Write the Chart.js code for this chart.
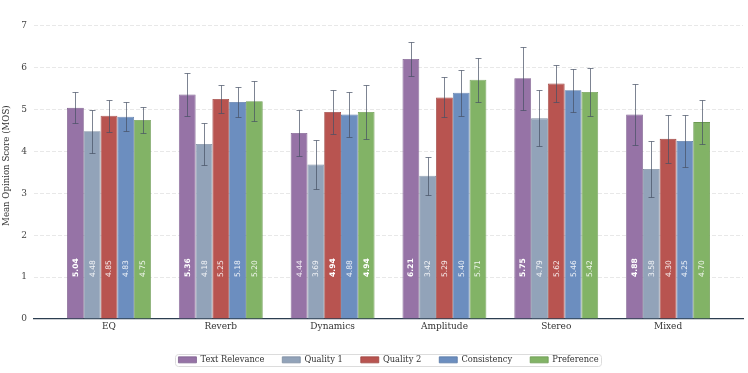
<!DOCTYPE html>
<html>
<head>
<meta charset="utf-8">
<script src="https://cdn.jsdelivr.net/npm/chart.js@4.4.1/dist/chart.umd.min.js"></script>
<style>
  html, body { margin: 0; padding: 0; background: #ffffff; }
  #wrap { position: relative; width: 748px; height: 373px; }
</style>
</head>
<body>
<div id="wrap"><canvas id="c" width="748" height="373"></canvas></div>
<script>
const categories = ['EQ', 'Reverb', 'Dynamics', 'Amplitude', 'Stereo', 'Mixed'];
const seriesNames = ['Text Relevance', 'Quality 1', 'Quality 2', 'Consistency', 'Preference'];

const textRelevance = [5.04, 5.36, 4.44, 6.21, 5.75, 4.88];
const quality1      = [4.48, 4.18, 3.69, 3.42, 4.79, 3.58];
const quality2      = [4.85, 5.25, 4.94, 5.29, 5.62, 4.30];
const consistency   = [4.83, 5.18, 4.88, 5.40, 5.46, 4.25];
const preference    = [4.75, 5.20, 4.94, 5.71, 5.42, 4.70];

const textRelevanceErr = [0.37, 0.52, 0.55, 0.40, 0.75, 0.73];
const quality1Err      = [0.51, 0.51, 0.58, 0.45, 0.67, 0.66];
const quality2Err      = [0.38, 0.33, 0.53, 0.48, 0.45, 0.58];
const consistencyErr   = [0.34, 0.36, 0.54, 0.55, 0.52, 0.63];
const preferenceErr    = [0.32, 0.47, 0.65, 0.52, 0.57, 0.53];

const yTickValues = [0, 1, 2, 3, 4, 5, 6, 7];

const seriesValues = [textRelevance, quality1, quality2, consistency, preference];
const seriesErrors = [textRelevanceErr, quality1Err, quality2Err, consistencyErr, preferenceErr];
const fillColors = ['#9673a6', '#92a3b9', '#b85450', '#6c8ebf', '#82b366'];
const edgeColors = ['#7e5f8e', '#7c8ca0', '#9e4440', '#5877a6', '#6c9a52'];

const SERIF = '"DejaVu Serif", serif';
const SANS = '"DejaVu Sans", sans-serif';
const LEGEND_SHIFT_X = 17;
const LEGEND_SHIFT_Y = 4;

const datasets = seriesNames.map((name, s) => ({
  label: name,
  data: seriesValues[s].map((v, i) => ({ x: i, y: v })),
  errors: seriesErrors[s],
  backgroundColor: fillColors[s],
  borderColor: edgeColors[s],
  borderWidth: 0.8,
  categoryPercentage: 0.75,
  barPercentage: 1.0
}));

const errorBarPlugin = {
  id: 'errorBars',
  afterDatasetsDraw(chart) {
    const ctx = chart.ctx;
    const yScale = chart.scales.y;
    ctx.save();
    ctx.strokeStyle = 'rgba(70,80,100,0.7)';
    ctx.lineWidth = 1;
    chart.data.datasets.forEach((ds, di) => {
      const meta = chart.getDatasetMeta(di);
      meta.data.forEach((bar, i) => {
        const v = ds.data[i].y, e = ds.errors[i];
        const yt = Math.round(yScale.getPixelForValue(v + e)) + 0.5;
        const yb = Math.round(yScale.getPixelForValue(v - e)) + 0.5;
        const x = Math.round(bar.x) + 0.5;
        ctx.beginPath();
        ctx.moveTo(x, yt); ctx.lineTo(x, yb);
        ctx.moveTo(x - 3, yt); ctx.lineTo(x + 3, yt);
        ctx.moveTo(x - 3, yb); ctx.lineTo(x + 3, yb);
        ctx.stroke();
      });
    });
    ctx.restore();
  }
};

const valueLabelPlugin = {
  id: 'valueLabels',
  afterDatasetsDraw(chart) {
    const ctx = chart.ctx;
    const yScale = chart.scales.y;
    const y0 = yScale.getPixelForValue(1.0);
    ctx.save();
    chart.data.datasets.forEach((ds, di) => {
      const meta = chart.getDatasetMeta(di);
      meta.data.forEach((bar, i) => {
        const v = ds.data[i].y;
        const maxV = Math.max(...seriesValues.map(arr => arr[i]));
        const isMax = v === maxV;
        ctx.save();
        ctx.translate(bar.x, y0);
        ctx.rotate(-Math.PI / 2);
        ctx.font = (isMax ? 'bold ' : '') + '7.6px ' + SANS;
        ctx.fillStyle = isMax ? '#ffffff' : 'rgba(255,255,255,0.88)';
        ctx.textAlign = 'left';
        ctx.textBaseline = 'middle';
        ctx.fillText(v.toFixed(2), 0, 0.5);
        ctx.restore();
      });
    });
    ctx.restore();
  }
};

const legendPlugin = {
  id: 'legendFrame',
  afterLayout(chart) {
    const lg = chart.legend;
    if (!lg) return;
    lg.left += LEGEND_SHIFT_X; lg.right += LEGEND_SHIFT_X;
    lg.top += LEGEND_SHIFT_Y; lg.bottom += LEGEND_SHIFT_Y;
  },
  afterDraw(chart) {
    const lg = chart.legend;
    if (!lg || !lg.legendHitBoxes || !lg.legendHitBoxes.length) return;
    const boxes = lg.legendHitBoxes;
    const left = Math.min(...boxes.map(b => b.left)) - 3;
    const right = Math.max(...boxes.map(b => b.left + b.width)) + 3;
    const top = Math.min(...boxes.map(b => b.top)) - 2;
    const bottom = Math.max(...boxes.map(b => b.top + b.height)) + 2;
    const ctx = chart.ctx;
    ctx.save();
    ctx.strokeStyle = '#dcdcdc';
    ctx.lineWidth = 1;
    ctx.beginPath();
    ctx.roundRect(Math.round(left) + 0.5, Math.round(top) + 0.5, Math.round(right - left), Math.round(bottom - top), 3);
    ctx.stroke();
    ctx.restore();
  }
};

new Chart(document.getElementById('c'), {
  type: 'bar',
  data: { datasets },
  options: {
    responsive: false,
    animation: false,
    devicePixelRatio: 1,
    layout: { padding: { left: 0, right: 5, top: 0, bottom: 3 } },
    plugins: {
      legend: {
        position: 'bottom',
        labels: {
          boxWidth: 18,
          boxHeight: 6,
          padding: 18,
          color: '#333333',
          font: { family: SERIF, size: 8.3 }
        }
      },
      tooltip: { enabled: false }
    },
    scales: {
      x: {
        type: 'linear',
        min: -0.67,
        max: 5.67,
        offset: false,
        afterBuildTicks(axis) { axis.ticks = categories.map((c, i) => ({ value: i })); },
        ticks: {
          callback: (v) => categories[v],
          color: '#333333',
          font: { family: SERIF, size: 9 },
          padding: 2,
          maxRotation: 0,
          autoSkip: false
        },
        grid: { display: false, drawTicks: false },
        border: { display: true, color: '#2c3e50', width: 1.2 }
      },
      y: {
        min: 0,
        max: 7.32,
        afterBuildTicks(axis) { axis.ticks = yTickValues.map(v => ({ value: v })); },
        ticks: {
          color: '#444444',
          font: { family: SERIF, size: 9 },
          padding: 7
        },
        grid: { color: '#e2e2e2', lineWidth: 0.8, drawTicks: false },
        border: { display: false, dash: [4, 2] },
        title: {
          display: true,
          text: 'Mean Opinion Score (MOS)',
          color: '#333333',
          font: { family: SERIF, size: 8.6 },
          padding: { top: 2, bottom: 2 }
        }
      }
    }
  },
  plugins: [errorBarPlugin, valueLabelPlugin, legendPlugin]
});
</script>
</body>
</html>
